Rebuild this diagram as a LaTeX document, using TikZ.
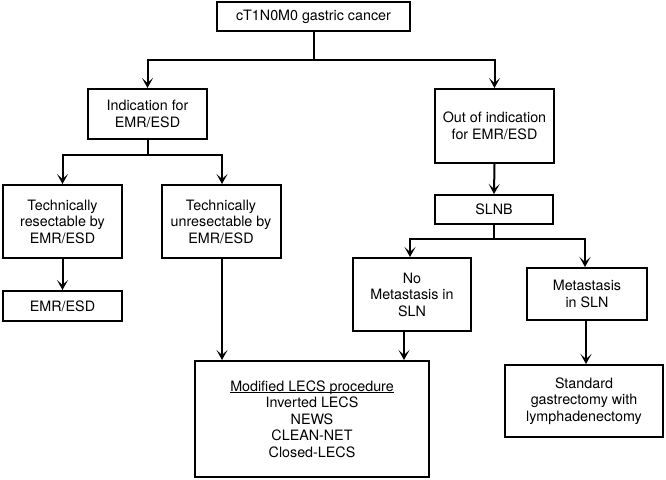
\documentclass[tikz,border=0pt]{standalone}
\usepackage{fontspec}
\setmainfont{TeX Gyre Heros}
\usetikzlibrary{arrows.meta}
\begin{document}
\begin{tikzpicture}[x=1pt,y=-1pt,
  box/.style={draw=black, line width=2pt, align=center, inner sep=0pt,
    font=\fontsize{14.3}{16.5}\selectfont},
  arr/.style={line width=2pt, -{Stealth[length=10pt,width=11pt,inset=5pt]}},
  ln/.style={line width=2pt}]
\useasboundingbox (0,0) rectangle (666,479);
\node[box, minimum width=193pt, minimum height=29pt] (top) at (313.5,16.5) {cT1N0M0 gastric cancer};
\node[box, minimum width=119pt, minimum height=50pt] (ind) at (147.5,114) {Indication for\\EMR/ESD};
\node[box, minimum width=119pt, minimum height=74pt] (out) at (494.5,126) {Out of indication\\for EMR/ESD};
\node[box, minimum width=119pt, minimum height=73pt] (res) at (62.5,221.5) {Technically\\resectable by\\EMR/ESD};
\node[box, minimum width=119pt, minimum height=73pt] (unres) at (221,221.5) {Technically\\unresectable by\\EMR/ESD};
\node[box, minimum width=119pt, minimum height=30pt] (emr) at (62.5,306) {EMR/ESD};
\node[box, minimum width=118pt, minimum height=29pt] (slnb) at (494,209.5) {SLNB};
\node[box, minimum width=118pt, minimum height=73pt] (nomet) at (412,294.5) {No\\Metastasis in\\SLN};
\node[box, minimum width=120pt, minimum height=52pt] (met) at (587,294) {Metastasis\\in SLN};
\node[box, minimum width=234pt, minimum height=116pt] (lecs) at (312,419) {\underline{\raisebox{0pt}[\height][0pt]{Modified LECS procedure}}\\Inverted LECS\\NEWS\\CLEAN-NET\\Closed-LECS};
\node[box, minimum width=158pt, minimum height=72pt] (std) at (584,401) {Standard\\gastrectomy with\\lymphadenectomy};
% connectors
\coordinate (j1) at (313.5,60);
\draw[ln] (top.south) -- (j1);
\draw[arr] (j1) -| (ind.north);
\draw[arr] (j1) -| (out.north);
\coordinate (j2) at (147.5,155);
\draw[ln] (ind.south) -- (j2);
\draw[arr] (j2) -| (res.north);
\draw[arr] (j2) -| ([xshift=1pt]unres.north);
\draw[arr] (res.south) -- (emr.north);
\draw[arr] ([xshift=1pt]unres.south) -- ([xshift=1pt]unres.south |- lecs.north);
\draw[arr] (out.south) -- (slnb.north);
\coordinate (j3) at (494,239);
\draw[ln] (slnb.south) -- (j3);
\draw[arr] (j3) -| ([xshift=-2pt]nomet.north);
\draw[arr] (j3) -| ([xshift=-2pt]met.north);
\draw[arr] ([xshift=-8pt]nomet.south) -- ([xshift=-8pt]nomet.south |- lecs.north);
\draw[arr] ([xshift=-1pt]met.south) -- ([xshift=-1pt]met.south |- std.north);
\end{tikzpicture}
\end{document}
